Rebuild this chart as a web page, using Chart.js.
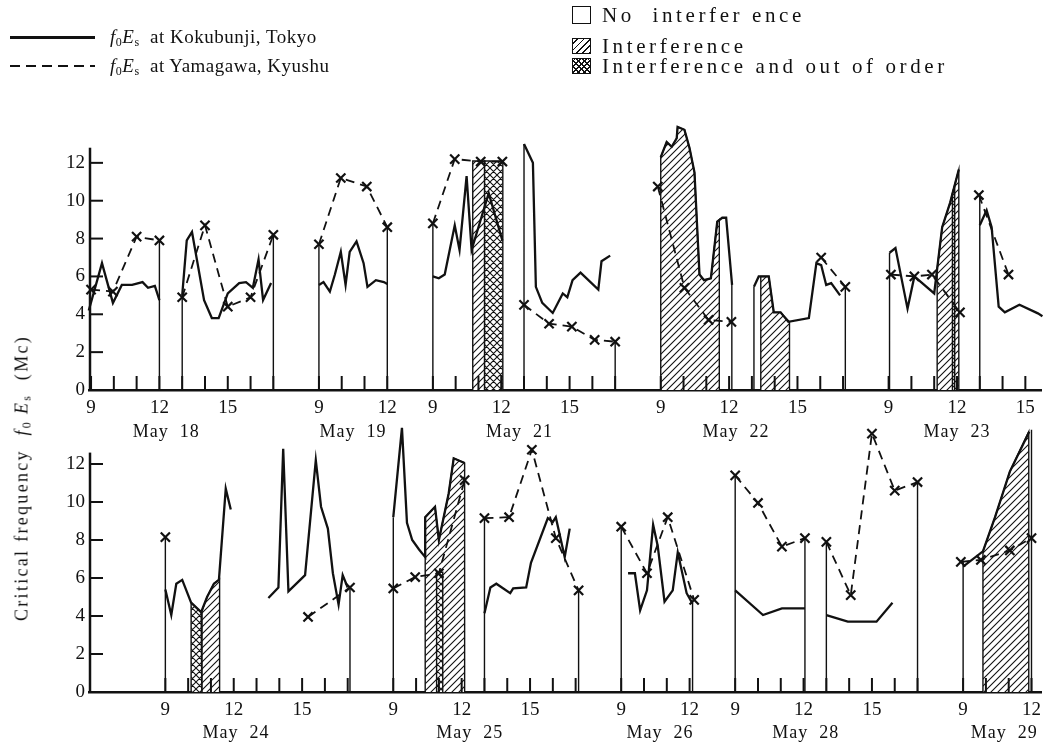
<!DOCTYPE html>
<html lang="en">
<head>
<meta charset="UTF-8" />
<title>Critical frequency foEs - Kokubunji / Yamagawa</title>
<script src="https://cdn.jsdelivr.net/npm/chart.js"></script>
<style>
  body { margin: 0; background: #fff; }
  #wrap { position: relative; width: 1050px; height: 750px; overflow: hidden; font-family: 'Liberation Serif', serif; color: #111; }
  canvas { position: absolute; left: 0; }
  .txt { position: absolute; font-size: 19px; white-space: nowrap; line-height: 20px; }
  .txt sub { font-size: 12px; vertical-align: -3px; line-height: 0; }
  .wide { font-size: 21px; letter-spacing: 3.6px; }
  .sw { position: absolute; box-sizing: border-box; border: 1.5px solid #111; }
  .hatch { background: repeating-linear-gradient(-45deg, #111 0 1.3px, #fff 1.3px 4.5px); }
  .cross { background: repeating-linear-gradient(-45deg, #111 0 1.2px, transparent 1.2px 4px), repeating-linear-gradient(45deg, #111 0 1.2px, #fff 1.2px 4px); }
  #ytitle { position: absolute; left: 22px; top: 478px; transform: translate(-50%, -50%) rotate(-90deg); font-size: 18px; letter-spacing: 2.3px; white-space: nowrap; }
  #ytitle sub { font-size: 12px; vertical-align: -3px; line-height: 0; }
</style>
</head>
<body>
<div id="wrap">
  <canvas id="topChart" width="1050" height="445" style="top:0"></canvas>
  <canvas id="botChart" width="1050" height="355" style="top:395px"></canvas>

  <!-- legend -->
  <div style="position:absolute;left:10px;top:36px;width:85px;height:2.5px;background:#111"></div>
  <div class="txt" style="left:110px;top:27px;letter-spacing:0.5px"><i>f</i><sub>0</sub><i>E</i><sub>s</sub>&nbsp; at Kokubunji, Tokyo</div>
  <div style="position:absolute;left:10px;top:65px;width:85px;height:2px;background:repeating-linear-gradient(to right,#111 0 10px,transparent 10px 16px)"></div>
  <div class="txt" style="left:110px;top:56px;letter-spacing:0.5px"><i>f</i><sub>0</sub><i>E</i><sub>s</sub>&nbsp; at Yamagawa, Kyushu</div>

  <div class="sw" style="left:572px;top:6px;width:19px;height:18px"></div>
  <div class="txt wide" style="left:602px;top:5px">No&nbsp; interfer ence</div>
  <div class="sw hatch" style="left:572px;top:38px;width:19px;height:16px"></div>
  <div class="txt wide" style="left:602px;top:36px">Interference</div>
  <div class="sw cross" style="left:572px;top:58px;width:19px;height:16px"></div>
  <div class="txt wide" style="left:602px;top:56px">Interference and out of order</div>

  <div id="ytitle">Critical frequency&nbsp; <i>f</i><sub>0</sub>&thinsp;<i>E</i><sub>s</sub>&nbsp; (Mc)</div>
</div>

<script>
// ---- data (hour of day, fEs in Mc) ----
const yTicks = [0, 2, 4, 6, 8, 10, 12]

// upper panel
const topOffsets = { 'May 18': 0, 'May 19': 10, 'May 21': 15, 'May 22': 25, 'May 23': 35 }
const topSpans = { 'May 18': [9, 17], 'May 19': [9, 12], 'May 21': [9, 17], 'May 22': [9, 17], 'May 23': [9, 15] }
const topHourLabels = { 'May 18': [9, 12, 15], 'May 19': [9, 12], 'May 21': [9, 12, 15], 'May 22': [9, 12, 15], 'May 23': [9, 12, 15] }
const topDayLabels = [['May  18', 3.3], ['May  19', 11.5], ['May  21', 18.8], ['May  22', 28.3], ['May  23', 38.0]]

const tokyoTop = [
  ['May 18', [[8.9, 4.2], [9.48, 6.7], [9.96, 4.6], [10.35, 5.55], [10.8, 5.55], [11.26, 5.7], [11.5, 5.4], [11.8, 5.5], [12.0, 4.75]]],
  ['May 18', [[13.0, 5.0], [13.2, 7.9], [13.43, 8.35], [13.96, 4.75], [14.3, 3.8], [14.6, 3.8], [15.0, 5.1], [15.5, 5.65], [15.8, 5.7], [16.1, 5.4], [16.35, 6.9], [16.55, 4.75], [16.9, 5.65]]],
  ['May 19', [[9.0, 5.55], [9.2, 5.7], [9.48, 5.2], [9.7, 6.1], [9.96, 7.3], [10.17, 5.55], [10.35, 7.3], [10.65, 7.85], [10.96, 6.7], [11.13, 5.45], [11.5, 5.8], [11.85, 5.7], [12.0, 5.6]]],
  ['May 21', [[9.0, 6.0], [9.26, 5.9], [9.52, 6.1], [9.96, 8.7], [10.17, 7.4], [10.48, 11.3], [10.7, 7.4], [11.0, 8.6], [11.45, 10.4], [12.05, 7.9]]],
  ['May 21', [[13.0, 13.0], [13.39, 12.0], [13.52, 5.45], [13.8, 4.6], [14.26, 4.07], [14.7, 5.1], [14.9, 4.9], [15.13, 5.8], [15.48, 6.2], [16.26, 5.3], [16.4, 6.8], [16.78, 7.1]]],
  ['May 22', [[9.0, 12.3], [9.26, 13.1], [9.48, 12.85], [9.7, 13.3], [9.74, 13.9], [10.04, 13.75], [10.26, 12.8], [10.48, 11.5], [10.7, 6.1], [10.9, 5.8], [11.2, 5.9], [11.48, 8.9], [11.7, 9.1], [11.87, 9.1], [12.13, 5.55]]],
  ['May 22', [[13.09, 5.45], [13.3, 6.0], [13.74, 6.0], [13.96, 4.1], [14.26, 4.1], [14.6, 3.6], [15.5, 3.8], [15.83, 6.7], [16.04, 6.6], [16.26, 5.55], [16.48, 5.65], [16.87, 5.0]]],
  ['May 23', [[9.04, 7.25], [9.3, 7.5], [9.83, 4.3], [10.13, 6.0], [11.0, 5.1], [11.35, 8.6], [11.7, 9.9], [12.08, 11.65]]],
  ['May 23', [[13.0, 8.7], [13.3, 9.5], [13.52, 8.6], [13.83, 4.4], [14.1, 4.1], [14.74, 4.5], [15.55, 4.05], [15.75, 3.9]]]
]
const yamagawaTop = [
  ['May 18', [[9.0, 5.3], [9.96, 5.2], [11.0, 8.1], [12.0, 7.9]]],
  ['May 18', [[13.0, 4.9], [14.0, 8.7], [15.0, 4.4], [16.0, 4.9], [17.0, 8.2]]],
  ['May 19', [[9.0, 7.7], [9.96, 11.2], [11.1, 10.75], [12.0, 8.6]]],
  ['May 21', [[9.0, 8.8], [9.96, 12.2], [11.1, 12.07], [12.05, 12.07]]],
  ['May 21', [[13.0, 4.5], [14.1, 3.5], [15.1, 3.35], [16.1, 2.65], [17.0, 2.55]]],
  ['May 22', [[8.87, 10.75], [10.04, 5.4], [11.1, 3.7], [12.1, 3.6]]],
  ['May 22', [[16.04, 7.0], [17.1, 5.45]]],
  ['May 23', [[9.1, 6.1], [10.13, 6.0], [10.9, 6.1], [12.13, 4.1]]],
  ['May 23', [[12.96, 10.3], [14.26, 6.1]]]
]
const edgesTop = [
  ['May 18', 12, 7.9], ['May 18', 13, 4.95], ['May 18', 17, 8.2],
  ['May 19', 9, 7.7], ['May 19', 12, 8.6],
  ['May 21', 9, 8.8], ['May 21', 13, 13.0], ['May 21', 17, 2.6],
  ['May 22', 12.12, 5.6], ['May 22', 13.09, 5.45], ['May 22', 17.1, 5.45],
  ['May 23', 9.04, 7.25], ['May 23', 13.0, 10.4]
]
const hatchTop = [
  ['May 21', [[10.75, 0], [10.75, 12.1], [11.27, 12.1], [11.27, 0]]],
  ['May 22', [[9.0, 0], [9.0, 12.3], [9.26, 13.1], [9.48, 12.85], [9.7, 13.3], [9.74, 13.9], [10.04, 13.75], [10.26, 12.8], [10.48, 11.5], [10.7, 6.1], [10.9, 5.8], [11.2, 5.9], [11.48, 8.9], [11.57, 9.0], [11.57, 0]]],
  ['May 22', [[13.39, 0], [13.39, 6.0], [13.74, 6.0], [13.96, 4.1], [14.26, 4.1], [14.65, 3.6], [14.65, 0]]],
  ['May 23', [[11.13, 0], [11.13, 6.4], [11.35, 8.6], [11.7, 9.9], [12.08, 11.65], [12.08, 0]]]
]
const crossTop = [
  ['May 21', [[11.27, 0], [11.27, 12.1], [12.07, 12.1], [12.07, 0]]],
  ['May 23', [[11.8, 0], [11.8, 10.4], [11.9, 10.8], [11.9, 0]]]
]

// lower panel
const botOffsets = { 'May 24': 0, 'May 25': 10, 'May 26': 20, 'May 28': 25, 'May 29': 35 }
const botSpans = { 'May 24': [9, 17], 'May 25': [9, 17], 'May 26': [9, 12], 'May 28': [9, 17], 'May 29': [9, 12] }
const botHourLabels = { 'May 24': [9, 12, 15], 'May 25': [9, 12, 15], 'May 26': [9, 12], 'May 28': [9, 12, 15], 'May 29': [9, 12] }
const botDayLabels = [['May  24', 3.1], ['May  25', 13.35], ['May  26', 21.7], ['May  28', 28.1], ['May  29', 36.8]]

const tokyoBot = [
  ['May 24', [[9.0, 5.4], [9.26, 4.05], [9.48, 5.7], [9.74, 5.9], [10.13, 4.7], [10.57, 4.2], [10.83, 5.0], [11.13, 5.7], [11.35, 5.9], [11.65, 10.7], [11.87, 9.6]]],
  ['May 24', [[13.52, 4.95], [13.96, 5.5], [14.17, 12.8], [14.4, 5.3], [15.13, 6.15], [15.6, 12.2], [15.83, 9.75], [16.13, 8.6], [16.35, 6.25], [16.6, 4.6], [16.78, 6.15], [17.0, 5.5]]],
  ['May 25', [[9.0, 9.2], [9.38, 13.9], [9.6, 8.9], [9.83, 8.0], [10.13, 7.5], [10.4, 7.1], [10.4, 9.2], [10.83, 9.75], [11.0, 8.0], [11.43, 10.45], [11.65, 12.3], [12.13, 12.05]]],
  ['May 25', [[13.0, 4.15], [13.26, 5.5], [13.52, 5.7], [14.13, 5.2], [14.26, 5.45], [14.83, 5.5], [15.04, 6.8], [15.78, 9.15], [16.0, 8.95], [16.13, 9.2], [16.52, 7.1], [16.74, 8.6]]],
  ['May 26', [[9.3, 6.25], [9.6, 6.25], [9.83, 4.3], [10.13, 5.35], [10.4, 8.8], [10.6, 7.7], [10.9, 4.75], [11.26, 5.35], [11.48, 7.35], [11.87, 5.2], [12.13, 4.65]]],
  ['May 28', [[9.0, 5.35], [10.22, 4.05], [11.05, 4.4], [12.06, 4.4]]],
  ['May 28', [[13.0, 4.05], [13.94, 3.7], [15.2, 3.7], [15.9, 4.7]]],
  ['May 29', [[9.0, 6.6], [9.87, 7.4], [10.4, 9.2], [11.05, 11.6], [11.9, 13.7]]]
]
const yamagawaBot = [
  ['May 24', [[9.0, 8.15]]],
  ['May 24', [[15.26, 3.95], [17.1, 5.5]]],
  ['May 25', [[9.0, 5.45], [9.96, 6.05], [11.0, 6.25], [12.13, 11.15]]],
  ['May 25', [[13.0, 9.15], [14.08, 9.2], [15.08, 12.75], [16.13, 8.1], [17.13, 5.35]]],
  ['May 26', [[9.0, 8.7], [10.13, 6.25], [11.04, 9.2], [12.2, 4.85]]],
  ['May 28', [[9.0, 11.4], [10.0, 9.95], [11.05, 7.65], [12.06, 8.1]]],
  ['May 28', [[13.0, 7.9], [14.07, 5.1], [15.0, 13.6], [16.0, 10.6], [17.0, 11.05]]],
  ['May 29', [[8.9, 6.85], [9.78, 6.95], [11.05, 7.45], [12.0, 8.1]]]
]
const edgesBot = [
  ['May 24', 9.0, 8.15], ['May 24', 17.1, 5.5],
  ['May 25', 9.0, 9.2], ['May 25', 13.0, 9.15], ['May 25', 17.13, 5.35],
  ['May 26', 9.0, 8.7], ['May 26', 12.13, 4.7],
  ['May 28', 9.0, 11.4], ['May 28', 12.06, 8.1], ['May 28', 13.0, 7.9], ['May 28', 17.0, 11.05],
  ['May 29', 9.0, 6.85], ['May 29', 12.0, 13.8]
]
const hatchBot = [
  ['May 24', [[10.6, 0], [10.6, 4.25], [10.83, 5.0], [11.13, 5.7], [11.38, 5.95], [11.38, 0]]],
  ['May 25', [[10.4, 0], [10.4, 9.2], [10.83, 9.75], [11.0, 8.0], [11.43, 10.45], [11.65, 12.3], [12.13, 12.05], [12.13, 0]]],
  ['May 29', [[9.87, 0], [9.87, 7.4], [10.4, 9.2], [11.05, 11.6], [11.88, 13.7], [11.88, 0]]]
]
const crossBot = [
  ['May 24', [[10.13, 0], [10.13, 4.7], [10.57, 4.2], [10.6, 4.25], [10.6, 0]]],
  ['May 25', [[10.9, 0], [10.9, 6.3], [11.17, 6.3], [11.17, 0]]]
]

// ---- helpers ----
function makePattern(cross) {
  const s = 7
  const c = document.createElement('canvas')
  c.width = s
  c.height = s
  const g = c.getContext('2d')
  g.fillStyle = '#fff'
  g.fillRect(0, 0, s, s)
  g.strokeStyle = '#111'
  g.lineWidth = 1.1
  g.beginPath()
  g.moveTo(-1, s + 1); g.lineTo(s + 1, -1)
  g.moveTo(-1, 1); g.lineTo(1, -1)
  g.moveTo(s - 1, s + 1); g.lineTo(s + 1, s - 1)
  if (cross) {
    g.moveTo(-1, -1); g.lineTo(s + 1, s + 1)
    g.moveTo(-1, s - 1); g.lineTo(1, s + 1)
    g.moveTo(s - 1, -1); g.lineTo(s + 1, 1)
  }
  g.stroke()
  return g.createPattern(c, 'repeat')
}
const hatchFill = makePattern(false)
const crossFill = makePattern(true)

function segPoints(segs, offsets) {
  const out = []
  segs.forEach(([day, pts]) => {
    pts.forEach(([h, v]) => out.push({ x: offsets[day] + h - 9, y: v }))
    out.push({ x: offsets[day] + pts[pts.length - 1][0] - 9, y: null })
  })
  return out
}
function edgePoints(edges, offsets) {
  const out = []
  edges.forEach(([day, h, top]) => {
    const x = offsets[day] + h - 9
    out.push({ x, y: 0 }, { x, y: top }, { x, y: null })
  })
  return out
}
function regionSets(regions, offsets, pattern, order) {
  return regions.map(([day, pts]) => ({
    data: pts.map(([h, v]) => ({ x: offsets[day] + h - 9, y: v })),
    borderColor: '#111', borderWidth: 1.4, backgroundColor: pattern,
    fill: 'origin', pointRadius: 0, order
  }))
}

const decor = {
  id: 'decor',
  afterDatasetsDraw(chart, args, o) {
    const { ctx, chartArea } = chart
    const xs = chart.scales.x
    const ys = chart.scales.y
    const y0 = ys.getPixelForValue(0)
    const x0 = chartArea.left + 1
    ctx.save()
    ctx.strokeStyle = '#111'
    ctx.lineWidth = 2.5
    ctx.beginPath()
    ctx.moveTo(x0, y0)
    ctx.lineTo(x0, ys.getPixelForValue(o.axisTop))
    ctx.stroke()
    ctx.lineWidth = 2
    yTicks.forEach(v => {
      const y = ys.getPixelForValue(v)
      ctx.beginPath(); ctx.moveTo(x0, y); ctx.lineTo(x0 + 13, y); ctx.stroke()
    })
    Object.entries(o.spans).forEach(([day, [a, b]]) => {
      for (let h = a; h <= b; h++) {
        const x = xs.getPixelForValue(o.offsets[day] + h - 9)
        ctx.beginPath(); ctx.moveTo(x, y0); ctx.lineTo(x, y0 - 14); ctx.stroke()
      }
    })
    ctx.fillStyle = '#111'
    ctx.font = '18px "Liberation Serif"'
    ctx.textAlign = 'center'
    ctx.textBaseline = 'middle'
    ctx.letterSpacing = '1px'
    o.dayLabels.forEach(([txt, pos]) => ctx.fillText(txt, xs.getPixelForValue(pos), o.dayY))
    ctx.restore()
  }
}

function makePanel(id, p) {
  const tickVals = []
  const tickText = []
  Object.entries(p.hourLabels).forEach(([day, hs]) => hs.forEach(h => {
    tickVals.push(p.offsets[day] + h - 9)
    tickText.push(String(h))
  }))
  const datasets = [
    { data: segPoints(p.tokyo, p.offsets), borderColor: '#111', borderWidth: 2.3, pointRadius: 0, fill: false, order: 0, clip: false },
    { data: segPoints(p.yamagawa, p.offsets), borderColor: '#111', borderWidth: 1.8, borderDash: [9, 6],
      pointStyle: 'crossRot', pointRadius: 6.5, pointBorderWidth: 2.2, pointBorderColor: '#111', fill: false, order: 0, clip: false },
    { data: edgePoints(p.edges, p.offsets), borderColor: '#111', borderWidth: 1.4, pointRadius: 0, fill: false, order: 1, clip: false },
    ...regionSets(p.cross, p.offsets, crossFill, 2),
    ...regionSets(p.hatch, p.offsets, hatchFill, 3)
  ]
  const font = { family: 'Liberation Serif', size: 19 }
  return new Chart(document.getElementById(id), {
    type: 'line',
    data: { datasets },
    options: {
      responsive: false,
      animation: false,
      events: [],
      layout: { padding: { top: p.padTop, left: 0, right: 0, bottom: 0 } },
      elements: { line: { tension: 0 } },
      plugins: {
        legend: { display: false },
        tooltip: { enabled: false },
        decor: { axisTop: p.axisTop, spans: p.spans, offsets: p.offsets, dayLabels: p.dayLabels, dayY: p.dayY }
      },
      scales: {
        x: {
          type: 'linear', min: p.xMin, max: p.xMax,
          afterFit: s => { s.height = p.xHeight },
          afterBuildTicks: s => { s.ticks = tickVals.map(v => ({ value: v })) },
          ticks: { callback: (v, i) => tickText[i], font, color: '#111', padding: 7, maxRotation: 0, autoSkip: false },
          grid: { display: false, drawTicks: false },
          border: { display: true, color: '#111', width: 2.5 }
        },
        y: {
          min: 0, max: 14,
          afterFit: s => { s.width = 89 },
          afterBuildTicks: s => { s.ticks = yTicks.map(v => ({ value: v })) },
          ticks: { font, color: '#111', padding: 4 },
          grid: { display: false, drawTicks: false },
          border: { display: false }
        }
      }
    },
    plugins: [decor]
  })
}

makePanel('topChart', {
  offsets: topOffsets, spans: topSpans, hourLabels: topHourLabels, dayLabels: topDayLabels,
  tokyo: tokyoTop, yamagawa: yamagawaTop, edges: edgesTop, hatch: hatchTop, cross: crossTop,
  xMin: -0.09, xMax: 41.7, padTop: 125, xHeight: 55, axisTop: 12.8, dayY: 432
})
makePanel('botChart', {
  offsets: botOffsets, spans: botSpans, hourLabels: botHourLabels, dayLabels: botDayLabels,
  tokyo: tokyoBot, yamagawa: yamagawaBot, edges: edgesBot, hatch: hatchBot, cross: crossBot,
  xMin: -3.35, xMax: 38.43, padTop: 31, xHeight: 58, axisTop: 12.6, dayY: 338
})
</script>
</body>
</html>
